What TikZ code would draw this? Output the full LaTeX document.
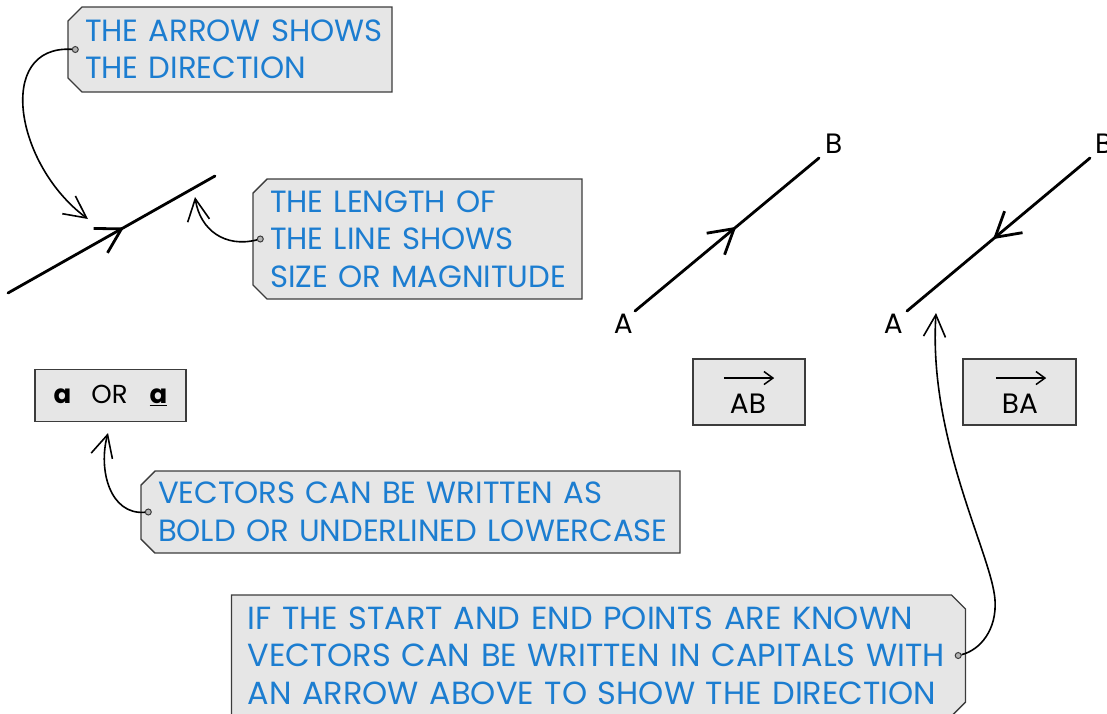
\documentclass[tikz,border=0pt]{standalone}
\usepackage{fontspec}
\setmainfont{Poppins}
\usetikzlibrary{shapes.misc, arrows.meta, positioning, decorations.markings}

\definecolor{noteblue}{HTML}{1C7DD0}
\definecolor{tagfill}{HTML}{E6E6E6}
\definecolor{tagline}{HTML}{3C3C3C}

\tikzset{
  note/.style={chamfered rectangle, chamfered rectangle xsep=7pt, chamfered rectangle ysep=7pt,
    draw=tagline, fill=tagfill, line width=1.4pt, text=noteblue, align=left,
    font=\fontsize{30.7}{37.5}\selectfont, inner xsep=10pt, inner ysep=0pt},
  tagleft/.style={note, chamfered rectangle corners={north west,south west}},
  tagright/.style={note, chamfered rectangle corners={north east,south east}},
  hole/.style={circle, draw=tagline, fill=gray!60, line width=1pt, inner sep=0pt, minimum size=6pt},
  card/.style={rectangle, draw=tagline, fill=tagfill, line width=1.4pt},
  conn/.style={line width=1.6pt, -{Straight Barb[length=22pt,width=22pt]}},
  overarr/.style={line width=1.5pt, -{Straight Barb[length=9pt,width=13pt]}},
  vec/.style={line width=2.8pt, line cap=round, postaction={decorate},
    decoration={markings, mark=at position #1 with {\arrow{Straight Barb[length=24pt,width=28pt]}}}},
  pt/.style={font=\fontsize{28}{30}\selectfont, inner sep=0pt},
}

\begin{document}
\begin{tikzpicture}[x=1pt, y=-1pt]
  \useasboundingbox (0,0) rectangle (1107,713);

  % tags
  \node[tagleft, text width=290pt, minimum height=85pt] (dir) at (230,49.5)
    {\mbox{THE ARROW SHOWS}\\\mbox{THE DIRECTION}};
  \node[tagleft, text width=295pt, minimum height=120pt] (len) at (417.5,239)
    {\mbox{THE LENGTH OF}\\\mbox{THE LINE SHOWS}\\\mbox{SIZE OR MAGNITUDE}};
  \node[tagleft, text width=505pt, minimum height=82pt] (low) at (410.5,512)
    {\mbox{VECTORS CAN BE WRITTEN AS}\\\mbox{BOLD OR UNDERLINED LOWERCASE}};
  \node[tagright, text width=702pt, minimum height=121pt, inner xsep=9pt, font=\fontsize{32}{37.5}\selectfont] (cap) at (598.5,655.5)
    {\mbox{IF THE START AND END POINTS ARE KNOWN}\\\mbox{VECTORS CAN BE WRITTEN IN CAPITALS WITH}\\\mbox{AN ARROW ABOVE TO SHOW THE DIRECTION}};

  \node[hole] (h1) at ([xshift=8pt]dir.west) {};
  \node[hole] (h2) at ([xshift=8pt]len.west) {};
  \node[hole] (h3) at ([xshift=8pt]low.west) {};
  \node[hole] (h4) at ([xshift=-8pt]cap.east) {};

  % plain vector
  \coordinate (v1s) at (8,293);
  \coordinate (v1e) at (215,176);
  \draw[vec=0.56] (v1s) -- (v1e);

  % AB and BA
  \coordinate (a1) at (635,311);
  \coordinate (b1) at (819,158);
  \draw[vec=0.55] (a1) -- (b1);
  \node[pt, below left=3pt and 2pt of a1] (la1) {A};
  \node[pt, above right=4pt and 6pt of b1] (lb1) {B};

  \coordinate (a2) at (907,311);
  \coordinate (b2) at (1090,158);
  \draw[vec=0.53] (b2) -- (a2);
  \node[pt, below left=3pt and 4pt of a2] (la2) {A};
  \node[pt, above right=4pt and 5pt of b2] (lb2) {B};

  % cards
  \node[card, minimum width=151pt, minimum height=52pt, font=\fontsize{26}{28}\selectfont] (lc) at (110.5,395.5)
    {\textbf{a}\hspace{20pt}OR\hspace{22pt}\underline{\textbf{a}}};
  \node[card, minimum width=112pt, minimum height=66pt] (cab) at (749,392) {};
  \node[pt] (tab) at (748,404) {AB};
  \draw[overarr] ([xshift=-6pt,yshift=16pt]tab.north west) -- ([xshift=8pt,yshift=16pt]tab.north east);
  \node[card, minimum width=113pt, minimum height=66pt] (cba) at (1019.5,392) {};
  \node[pt] (tba) at (1020,404) {BA};
  \draw[overarr] ([xshift=-6pt,yshift=16pt]tba.north west) -- ([xshift=8pt,yshift=16pt]tba.north east);

  % connectors
  \coordinate (t1) at (88,219);
  \coordinate (t2) at (195,197);
  \coordinate (t3) at (108,433);
  \coordinate (m4) at (995,600);
  \coordinate (t4) at (936,313);
  \draw[conn] (h1) .. controls (-5,45) and (15,165) .. (t1);
  \draw[conn] (h2) .. controls (225,248) and (200,230) .. (t2);
  \draw[conn] (h3) .. controls (110,515) and (98,470) .. (t3);
  \draw[conn] (h4) .. controls (980,650) and (997,630) .. (m4) .. controls (992,555) and (928,440) .. (t4);
\end{tikzpicture}
\end{document}
